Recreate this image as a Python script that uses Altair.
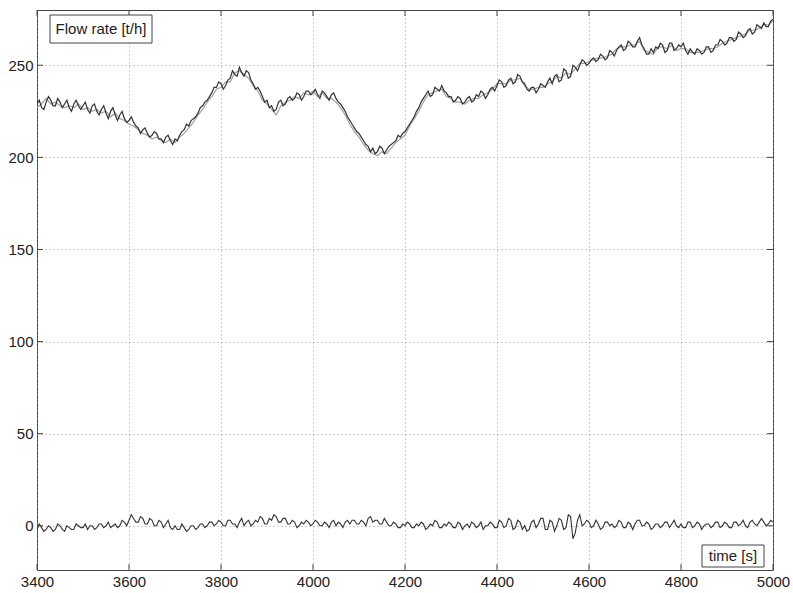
import altair as alt
import pandas as pd

# Sampling instants, seconds
time_fine = list(range(3400, 5001, 5))
time_coarse = list(range(3400, 5001, 10))

# Measured flow rate [t/h], 5 s samples
flow_measured = [
    229, 231, 227, 226, 230, 233, 231, 228, 228, 232, 230, 227, 229, 231, 227, 225, 229, 231, 228, 226,
    228, 230, 226, 224, 228, 229, 225, 223, 226, 228, 224, 221, 225, 227, 223, 220, 223, 225, 221, 219,
    220, 222, 219, 217, 216, 213, 215, 216, 213, 211, 212, 214, 213, 210, 210, 208, 211, 212, 209, 207,
    210, 209, 212, 214, 215, 218, 217, 220, 221, 222, 224, 227, 228, 230, 231, 233, 235, 238, 238, 241,
    240, 237, 239, 242, 243, 247, 245, 244, 249, 246, 244, 247, 246, 242, 240, 237, 238, 236, 233, 230,
    231, 227, 228, 225, 226, 230, 231, 228, 229, 232, 233, 231, 232, 235, 234, 231, 233, 236, 236, 234,
    235, 237, 234, 232, 236, 235, 233, 231, 234, 235, 232, 230, 229, 227, 225, 222, 220, 218, 216, 214,
    213, 211, 209, 207, 206, 203, 205, 202, 203, 206, 205, 202, 204, 206, 207, 208, 209, 212, 211, 213,
    214, 216, 218, 220, 222, 225, 227, 230, 232, 234, 236, 233, 234, 238, 237, 236, 239, 236, 235, 233,
    233, 230, 231, 233, 232, 229, 230, 232, 233, 230, 231, 234, 233, 236, 235, 232, 234, 237, 238, 236,
    239, 242, 241, 238, 239, 242, 243, 240, 241, 245, 244, 241, 240, 237, 236, 238, 238, 235, 237, 240,
    239, 238, 241, 243, 240, 244, 245, 241, 242, 248, 247, 243, 244, 250, 249, 247, 250, 253, 252, 250,
    251, 253, 254, 252, 253, 256, 255, 253, 254, 258, 257, 255, 258, 260, 261, 258, 259, 263, 262, 260,
    260, 263, 265, 261, 259, 256, 256, 259, 257, 260, 259, 262, 261, 257, 258, 262, 262, 258, 259, 261,
    260, 262, 258, 256, 259, 257, 256, 259, 258, 256, 257, 260, 260, 257, 258, 261, 261, 264, 263, 261,
    262, 265, 265, 263, 264, 268, 267, 265, 266, 269, 270, 267, 268, 272, 271, 270, 273, 271, 271, 274,
    275,
]

# Estimated flow rate [t/h], 10 s samples
flow_estimated = [
    227, 229, 232, 229, 230, 228, 227, 228, 227, 229,
    226, 227, 225, 226, 224, 225, 222, 224, 221, 220,
    218, 217, 215, 213, 212, 210, 211, 209, 208, 210,
    208, 211, 213, 216, 219, 223, 226, 230, 233, 237,
    238, 241, 241, 246, 247, 245, 243, 239, 236, 231,
    229, 226, 223, 228, 230, 231, 233, 232, 235, 234,
    236, 233, 235, 232, 232, 230, 227, 223, 218, 214,
    211, 207, 204, 202, 201, 203, 202, 205, 208, 210,
    212, 217, 221, 225, 230, 234, 235, 236, 237, 233,
    232, 230, 230, 229, 231, 232, 232, 234, 235, 237,
    240, 240, 240, 242, 242, 243, 239, 237, 237, 238,
    238, 240, 241, 244, 243, 246, 245, 248, 251, 251,
    252, 253, 254, 254, 255, 256, 259, 260, 260, 261,
    261, 263, 258, 257, 256, 260, 260, 259, 261, 258,
    259, 259, 257, 257, 257, 258, 259, 259, 260, 262,
    263, 264, 265, 266, 267, 269, 269, 270, 272, 272,
    274,
]

# Estimation residual [t/h], 5 s samples
residual = [
    -2, 1, -1, -3, -2, 0, -1, -3, -2, 1, 0, -2, -3, 0, -1, -2, -2, 1, 0, -1,
    -1, 1, -2, 0, 0, -2, -1, 1, 1, -1, 0, 2, -1, 0, 1, -1, 0, 3, 2, 0,
    3, 6, 4, 2, 2, 5, 4, 1, 1, 4, 3, 0, 0, 3, 2, -1, 1, 3, -1, -2,
    0, -2, -2, 1, -1, -3, -2, 0, 0, -2, -1, 1, 1, -1, 0, 2, 2, 0, 1, 3,
    2, 0, 0, 3, 3, 1, 1, -1, 2, 4, 0, 2, 3, 0, 1, 3, 2, 5, 4, 1,
    1, 4, 3, 6, 5, 2, 2, 4, 4, 1, 1, 3, 2, -1, 0, 2, 1, 3, 2, 0,
    1, 3, 2, 0, 0, 2, 1, -1, 2, 3, 0, 2, 1, -1, 2, 3, 1, 3, 3, 1,
    1, 3, 2, 0, 4, 5, 2, 3, 3, 1, 1, 4, 2, 0, 0, 2, 1, -1, -1, 1,
    0, 2, 1, -1, -1, 1, 0, 2, 1, -2, -1, 1, 0, 3, 2, -1, -1, 1, 0, 2,
    1, -1, -1, 2, 1, -2, 0, 1, -1, 2, 1, -1, 0, 2, -2, 0, 0, 2, 1, -1,
    -1, 3, 2, -1, 0, 4, 3, -2, -1, 3, 2, -2, 0, -3, -2, 2, 3, -1, 1, 4,
    4, -2, -2, 3, 2, -3, 0, 4, 3, -2, -1, 6, 5, -7, -4, 3, 6, 0, 1, 3,
    2, -1, 0, 3, 1, -2, -1, 2, 2, 0, 1, -1, 0, 3, 2, -1, -1, 2, 1, -2,
    1, 3, 3, 0, 0, 2, 1, -2, -1, 1, 1, -1, 0, 2, 2, -1, 1, 3, 0, -1,
    1, -1, -1, 2, 2, -1, 0, 2, 1, -2, 0, 1, 1, -1, 0, 2, 2, -1, 0, 2,
    1, -1, -1, 2, 2, 0, 1, 3, 0, -1, 2, 3, 1, 0, 2, 4, 2, 0, 1, 3,
    2,
]

x_ticks = [3400, 3600, 3800, 4000, 4200, 4400, 4600, 4800, 5000]
y_ticks = [0, 50, 100, 150, 200, 250]
x_domain = [3400, 5000]
y_domain = [-24, 280]

W, H = 736, 560
FONT = "Liberation Sans"
AXIS_COLOR = "#444444"
TEXT_COLOR = "#222222"

fine = pd.DataFrame({"t": time_fine, "measured": flow_measured, "residual": residual})
coarse = pd.DataFrame({"t": time_coarse, "estimated": flow_estimated})

x_scale = alt.Scale(domain=x_domain, nice=False, zero=False)
y_scale = alt.Scale(domain=y_domain, nice=False, zero=False)

common_axis = dict(
    format="d", grid=True, gridDash=[1, 3], gridColor="#8a8a8a", gridOpacity=0.85,
    ticks=False, domain=False, labelFont=FONT, labelFontSize=15,
    labelColor=TEXT_COLOR, labelFlush=False, labelOverlap=False, title=None,
)
x_axis = alt.Axis(values=x_ticks, labelPadding=4, **common_axis)
y_axis = alt.Axis(values=y_ticks, labelPadding=4, **common_axis)

est_line = alt.Chart(coarse).mark_line(color="#a0a0a0", strokeWidth=1.2, clip=True).encode(
    x=alt.X("t:Q", scale=x_scale, axis=x_axis),
    y=alt.Y("estimated:Q", scale=y_scale, axis=y_axis),
)
meas_line = alt.Chart(fine).mark_line(color="#333333", strokeWidth=1.2, clip=True).encode(
    x=alt.X("t:Q", scale=x_scale),
    y=alt.Y("measured:Q", scale=y_scale),
)
res_line = alt.Chart(fine).mark_line(color="#333333", strokeWidth=1.1, clip=True).encode(
    x=alt.X("t:Q", scale=x_scale),
    y=alt.Y("residual:Q", scale=y_scale),
)

# Inward tick marks on all four sides of the box
xt = pd.DataFrame({"v": x_ticks})
yt = pd.DataFrame({"v": y_ticks})
tick_bottom = alt.Chart(xt).mark_rule(color=AXIS_COLOR, strokeWidth=1).encode(
    x=alt.X("v:Q", scale=x_scale), y=alt.value(H), y2=alt.value(H - 6))
tick_top = alt.Chart(xt).mark_rule(color=AXIS_COLOR, strokeWidth=1).encode(
    x=alt.X("v:Q", scale=x_scale), y=alt.value(0), y2=alt.value(6))
tick_left = alt.Chart(yt).mark_rule(color=AXIS_COLOR, strokeWidth=1).encode(
    y=alt.Y("v:Q", scale=y_scale), x=alt.value(0), x2=alt.value(6))
tick_right = alt.Chart(yt).mark_rule(color=AXIS_COLOR, strokeWidth=1).encode(
    y=alt.Y("v:Q", scale=y_scale), x=alt.value(W), x2=alt.value(W - 6))

# Labelled boxes
flow_box = alt.Chart(pd.DataFrame({"a": [0]})).mark_rect(
    fill="white", stroke=AXIS_COLOR, strokeWidth=1).encode(
    x=alt.value(13), x2=alt.value(115), y=alt.value(5), y2=alt.value(33))
flow_text = alt.Chart(pd.DataFrame({"a": ["Flow rate [t/h]"]})).mark_text(
    font=FONT, fontSize=15, color=TEXT_COLOR, align="center", baseline="middle").encode(
    x=alt.value(64), y=alt.value(19), text="a:N")
time_box = alt.Chart(pd.DataFrame({"a": [0]})).mark_rect(
    fill="white", stroke=AXIS_COLOR, strokeWidth=1).encode(
    x=alt.value(665), x2=alt.value(727), y=alt.value(535), y2=alt.value(557))
time_text = alt.Chart(pd.DataFrame({"a": ["time [s]"]})).mark_text(
    font=FONT, fontSize=15, color=TEXT_COLOR, align="center", baseline="middle").encode(
    x=alt.value(696), y=alt.value(546), text="a:N")

chart = alt.layer(
    est_line, meas_line, res_line,
    tick_bottom, tick_top, tick_left, tick_right,
    flow_box, flow_text, time_box, time_text,
).properties(
    width=W, height=H,
    autosize=alt.AutoSizeParams(type="none"),
    padding={"left": 37, "top": 10, "right": 20, "bottom": 23},
    background="white",
).configure_view(stroke=AXIS_COLOR, strokeWidth=1)

chart.save("out.html", embed_options={"renderer": "svg", "actions": False})
